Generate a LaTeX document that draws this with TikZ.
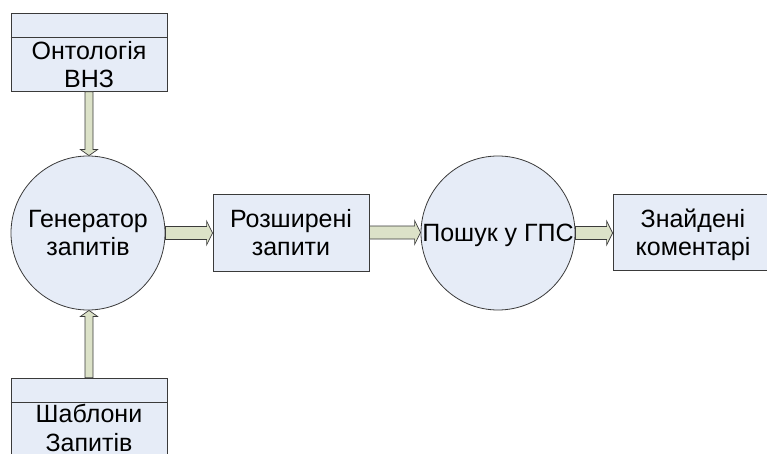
\documentclass[tikz,border=0pt]{standalone}
\usepackage{fontspec}
\setmainfont{Liberation Sans}
\usetikzlibrary{calc}
\definecolor{boxfill}{HTML}{E6ECF7}
\definecolor{arrfill}{HTML}{DCE2C8}
\definecolor{edgecol}{HTML}{3A3A3A}
\tikzset{
  txt/.style={font=\fontsize{25}{28.5}\selectfont, align=center, inner sep=0pt, text depth=0pt},
  boxnode/.style={txt, draw=edgecol, fill=boxfill, line width=0.8pt, minimum width=156pt, minimum height=77pt},
  storenode/.style={draw=edgecol, fill=boxfill, line width=0.8pt, minimum width=156pt, minimum height=78pt, inner sep=0pt},
  procnode/.style={txt, circle, draw=edgecol, fill=boxfill, line width=0.8pt, minimum size=154pt},
  fat/.style={draw=edgecol, fill=arrfill, line width=0.7pt, line join=miter},
}
\newcommand{\harrow}[2]{%
  \path[fat] let \p1=(#1), \p2=(#2) in
    (\x1,\y1+6.5pt) -- (\x2-6pt,\y1+6.5pt) -- (\x2-6pt,\y1+12pt) -- (\x2,\y1)
    -- (\x2-6pt,\y1-12pt) -- (\x2-6pt,\y1-6.5pt) -- (\x1,\y1-6.5pt) -- cycle;}
\newcommand{\varrow}[3]{%
  \path[fat] let \p1=(#1), \p2=(#2) in
    (\x1-4pt,\y1) -- (\x1-4pt,\y2+6pt*#3) -- (\x1-8.5pt,\y2+6pt*#3) -- (\x1,\y2)
    -- (\x1+8.5pt,\y2+6pt*#3) -- (\x1+4pt,\y2+6pt*#3) -- (\x1+4pt,\y1) -- cycle;}
\begin{document}
\begin{tikzpicture}[x=1pt,y=-1pt]
\useasboundingbox (0,0) rectangle (767,454);
\clip (0,0) rectangle (767,454);
% top data store
\node[storenode] (ont) at (89,52.5) {};
\draw[edgecol, line width=0.8pt] ($(ont.north west)+(0,24)$) -- ($(ont.north east)+(0,24)$);
\node[txt] (ontt) at (89,64.5) {Онтологія\\ВНЗ};
% bottom data store
\node[storenode] (shab) at (89,417) {};
\draw[edgecol, line width=0.8pt] ($(shab.north west)+(0,25)$) -- ($(shab.north east)+(0,25)$);
\node[txt] (shabt) at (89,428) {Шаблони\\Запитів};
% processes
\node[procnode] (gen) at (88,233) {Генератор\\запитів};
\node[boxnode] (roz) at (291,232.5) {Розширені\\запити};
\node[procnode] (posh) at (498,233) {Пошук у ГПС};
\node[boxnode, minimum width=160pt, minimum height=76pt] (zn) at (693,232) {Знайдені\\коментарі};
% arrows
\varrow{ont.south}{gen.north}{1}
\varrow{shab.north}{gen.south}{-1}
\harrow{gen.east}{roz.west}
\harrow{roz.east}{posh.west}
\harrow{posh.east}{zn.west}
\end{tikzpicture}
\end{document}
